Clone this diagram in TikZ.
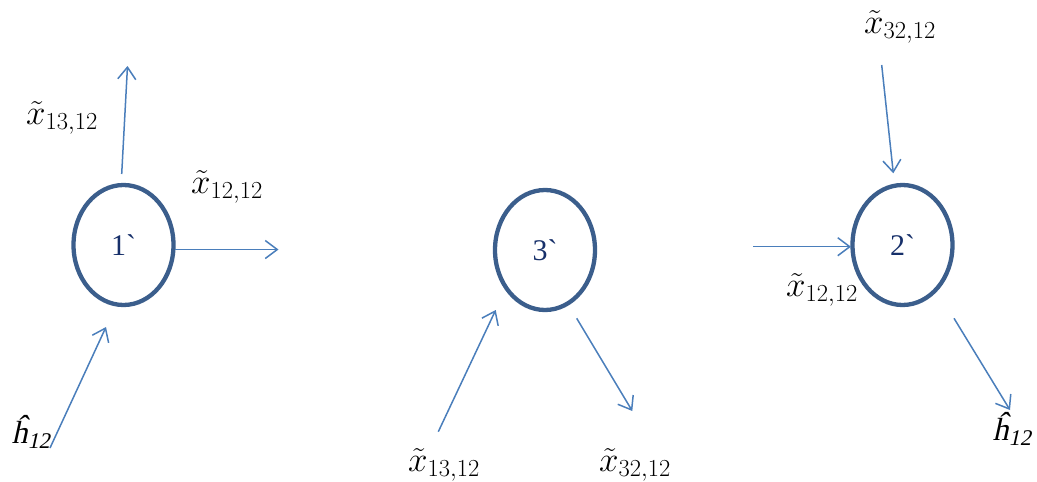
\RequirePackage{fix-cm}
\documentclass[tikz,border=0pt]{standalone}
\usepackage{fontspec}
\setmainfont{Liberation Serif}
\newfontfamily\hslant{Liberation Serif}[FakeSlant=0.22]
\usetikzlibrary{shapes.geometric,arrows.meta}
\definecolor{ringc}{HTML}{3B5E8C}
\definecolor{arrc}{HTML}{4A7EBB}
\definecolor{numc}{HTML}{17306A}
\tikzset{
  ring/.style={ellipse,draw=ringc,line width=4.3pt,minimum width=100pt,minimum height=120pt,inner sep=0pt,text=numc,font=\fontsize{30}{34}\selectfont},
  conn/.style={draw=arrc,line width=1.5pt,-{Straight Barb[length=12pt,width=18pt,line width=1.5pt]}},
  lbl/.style={font=\fontsize{35}{40}\selectfont,inner sep=0pt},
  hlbl/.style={font=\fontsize{32}{36}\selectfont\hslant,inner sep=0pt}
}
\begin{document}
\begin{tikzpicture}[x=1pt,y=-1pt]
\useasboundingbox (0,0) rectangle (1037,482);
% nodes
\node[ring] (n1) at (123.5,245) {1\textasciigrave};
\node[ring] (n3) at (545,250) {3\textasciigrave};
\node[ring] (n2) at (902.5,245) {2\textasciigrave};
% free ends
\coordinate (a1s) at (121.7,174);
\coordinate (a1e) at (127.5,66);
\coordinate (b1s) at (175,249.5);
\coordinate (b1e) at (278.5,249.5);
\coordinate (c1s) at (50,448);
\coordinate (c1e) at (106,327);
\coordinate (c3s) at (438.3,431.7);
\coordinate (c3e) at (495.7,310);
\coordinate (d3s) at (576.7,318.3);
\coordinate (d3e) at (632.3,411);
\coordinate (a2s) at (881.7,65);
\coordinate (a2e) at (893.3,173.3);
\coordinate (b2s) at (753.3,246.7);
\coordinate (b2e) at (851,246.7);
\coordinate (d2s) at (954,318.3);
\coordinate (d2e) at (1010,410);
% connectors
\draw[conn] (a1s) -- (a1e);
\draw[conn] (b1s) -- (b1e);
\draw[conn] (c1s) -- (c1e);
\draw[conn] (c3s) -- (c3e);
\draw[conn] (d3s) -- (d3e);
\draw[conn] (a2s) -- (a2e);
\draw[conn] (b2s) -- (b2e);
\draw[conn] (d2s) -- (d2e);
% labels
\node[lbl] (l1) at (62,118) {$\tilde{x}_{13,12}$};
\node[lbl] (l2) at (227,187) {$\tilde{x}_{12,12}$};
\node[hlbl] (l3) at (31,432) {ĥ\textsubscript{12}};
\node[lbl] (l4) at (444,465) {$\tilde{x}_{13,12}$};
\node[lbl] (l5) at (635,465) {$\tilde{x}_{32,12}$};
\node[lbl] (l6) at (900,27) {$\tilde{x}_{32,12}$};
\node[lbl] (l7) at (822,290) {$\tilde{x}_{12,12}$};
\node[hlbl] (l8) at (1012,429) {ĥ\textsubscript{12}};
\end{tikzpicture}
\end{document}
